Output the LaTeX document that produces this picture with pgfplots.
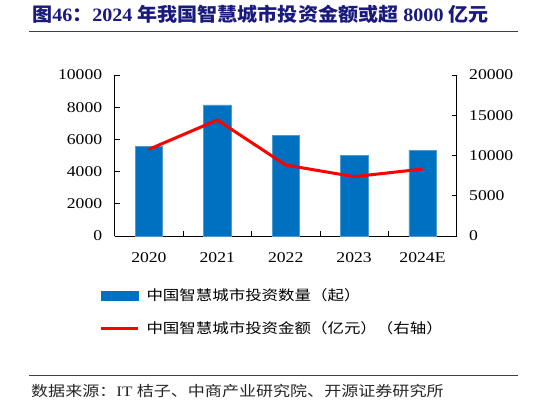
\documentclass[border=0pt]{standalone}
\usepackage{fontspec}
\usepackage{pgfplots}
\pgfplotsset{compat=1.18}
\setmainfont{Liberation Serif}[FakeStretch=1.18]
\newfontfamily\cjk{Noto Sans CJK SC}[FakeStretch=1.18]
\newfontfamily\cjkt{Noto Sans CJK SC}[FakeStretch=1.06]
\newfontfamily\serift{Liberation Serif}[FakeStretch=1.06]
\definecolor{barblue}{HTML}{0070C0}
\definecolor{titleblue}{HTML}{1A1A7E}

\begin{document}
\begin{tikzpicture}[x=1bp,y=1bp]
\path[use as bounding box] (0,0) rectangle (546,405);
% title and rules
\node[anchor=base west, inner sep=0, text=titleblue,
      font=\fontsize{19}{19}\selectfont\bfseries]
  at (32,384) {{\cjkt\bfseries 图}{\serift\bfseries 46}{\cjkt\bfseries ：}{\serift\bfseries 2024 }{\cjkt\bfseries 年我国智慧城市投资金额或超}{\serift\bfseries{} 8000 }{\cjkt\bfseries 亿元}};
\draw[line width=1bp, black!75] (29,374) -- (518,374);
\draw[line width=1bp, black!75] (29,30) -- (518,30);
\node[anchor=base west, inner sep=0, text=black!85,
      font=\fontsize{14.5}{14.5}\selectfont]
  at (31,8.5) {{\cjk 数据来源：}IT {\cjk 桔子、中商产业研究院、开源证券研究所}};

\begin{axis}[
  at={(114.7bp,169bp)}, anchor=south west,
  scale only axis, width=342bp, height=161bp,
  xmin=-0.5, xmax=4.5, ymin=0, ymax=10000,
  axis y line*=left, axis x line*=bottom,
  axis line style={line width=0.9bp},
  ytick={0,2000,...,10000},
  xtick={0.5,1.5,2.5,3.5}, xticklabels={},
  extra x ticks={0,1,2,3,4},
  extra x tick labels={2020,2021,2022,2023,2024E},
  extra x tick style={major tick length=0pt},
  tick align=inside, major tick length=5bp,
  tick style={line width=0.8bp, black},
  scaled y ticks=false,
  /pgf/number format/1000 sep={},
  /pgf/number format/assume math mode=true,
  ticklabel style={font=\fontsize{15}{15}\selectfont},
  yticklabel style={xshift=-9bp},
  xticklabel style={yshift=-13bp},
  clip=false,
]
\addplot[ybar, bar width=27.3bp, fill=barblue, draw=barblue!70!white, line width=0.4bp]
  coordinates {(0,5550) (1,8140) (2,6250) (3,5030) (4,5340)};
\end{axis}

\begin{axis}[
  at={(114.7bp,169bp)}, anchor=south west,
  scale only axis, width=342bp, height=161bp,
  xmin=-0.5, xmax=4.5, ymin=0, ymax=20000,
  axis x line=none, axis y line*=right,
  axis line style={line width=0.9bp},
  ytick={0,5000,...,20000},
  tick align=inside, major tick length=5bp,
  tick style={line width=0.8bp, black},
  scaled y ticks=false,
  /pgf/number format/1000 sep={},
  /pgf/number format/assume math mode=true,
  ticklabel style={font=\fontsize{15}{15}\selectfont},
  yticklabel style={xshift=9bp},
  clip=false,
  legend style={at={(axis description cs:-0.045,-0.325)}, anchor=north west,
    draw=none, fill=none, inner sep=0pt, row sep=20bp,
    nodes={inner sep=0pt, font=\fontsize{14}{14}\selectfont\cjk},
    cells={anchor=west}},
]
\addlegendimage{legend image code/.code={
  \fill[barblue] (0bp,-4.5bp) rectangle (37bp,4.5bp);
  \path (44bp,0bp);}}
\addlegendentry{中国智慧城市投资数量（起）}
\addplot[red, line width=3bp, mark=none,
  legend image code/.code={
  \draw[red, line width=3bp] (0bp,0bp) -- (37bp,0bp);
  \path (44bp,0bp);}]
  coordinates {(0,10770) (1,14410) (2,8820) (3,7370) (4,8320)};
\addlegendentry{中国智慧城市投资金额（亿元）（右轴）}
\end{axis}
\end{tikzpicture}
\end{document}
